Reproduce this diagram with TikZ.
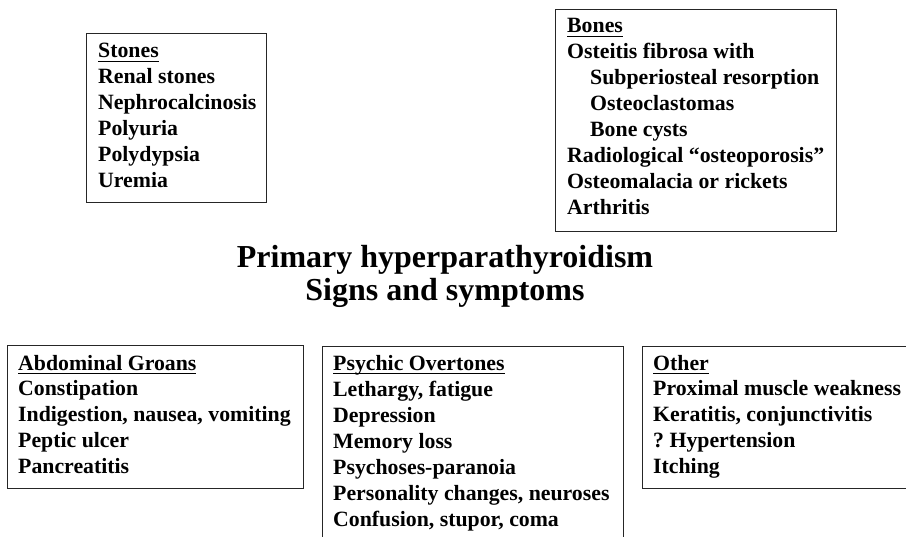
\documentclass[tikz,border=0pt]{standalone}
\usepackage{fontspec}
\setmainfont{Liberation Serif}
\usetikzlibrary{positioning}
\newsavebox\hdbox
\newcommand{\hd}[1]{\sbox\hdbox{#1}\rlap{\rule[-4pt]{\wd\hdbox}{1.4pt}}\usebox\hdbox}

\begin{document}
\begin{tikzpicture}[
x=1pt,y=-1pt,
frame/.style={draw=black!85,line width=1.2pt,inner sep=0pt,anchor=north west},
list/.style={inner sep=0pt,anchor=base west,align=left,
font=\fontsize{21.8}{26}\selectfont\bfseries},
heading/.style={inner sep=0pt,anchor=base,align=center,
font=\fontsize{32}{33}\selectfont\bfseries}
]
\useasboundingbox (0,0) rectangle (906,537);
\clip (0,0) rectangle (906,537);

\node[frame,minimum width=180pt,minimum height=169pt] (stonesbox) at (86,33) {};
\node[frame,minimum width=281pt,minimum height=222pt] (bonesbox) at (555,9) {};
\node[frame,minimum width=296pt,minimum height=143pt] (abdbox) at (7,345) {};
\node[frame,minimum width=301pt,minimum height=210pt] (psybox) at (322,346) {};
\node[frame,minimum width=290pt,minimum height=142pt] (othbox) at (642,346) {};

% base anchor sits on the last line
\node[list] (stones) at ([shift={(12,25+5*26)}]stonesbox.north west)
{\hd{Stones}\\ Renal stones\\ Nephrocalcinosis\\ Polyuria\\ Polydypsia\\ Uremia};
\node[list] (bones) at ([shift={(12,24+7*26)}]bonesbox.north west)
{\hd{Bones}\\ Osteitis fibrosa with\\
\hspace*{23pt}Subperiosteal resorption\\ \hspace*{23pt}Osteoclastomas\\
\hspace*{23pt}Bone cysts\\ Radiological ``osteoporosis''\\
Osteomalacia or rickets\\ Arthritis};

\node[heading] (title) at (445,268+33) {Primary hyperparathyroidism\\ Signs and symptoms};

\node[list] (abd) at ([shift={(11,25+4*26)}]abdbox.north west)
{\hd{Abdominal Groans}\\ Constipation\\ Indigestion, nausea, vomiting\\
Peptic ulcer\\ Pancreatitis};
\node[list] (psy) at ([shift={(11,24+6*26)}]psybox.north west)
{\hd{Psychic Overtones}\\ Lethargy, fatigue\\ Depression\\ Memory loss\\
Psychoses-paranoia\\ Personality changes, neuroses\\ Confusion, stupor, coma};
\node[list] (oth) at ([shift={(11,24+4*26)}]othbox.north west)
{\hd{Other}\\ Proximal muscle weakness\\ Keratitis, conjunctivitis\\
?\ Hypertension\\ Itching};
\end{tikzpicture}
\end{document}
